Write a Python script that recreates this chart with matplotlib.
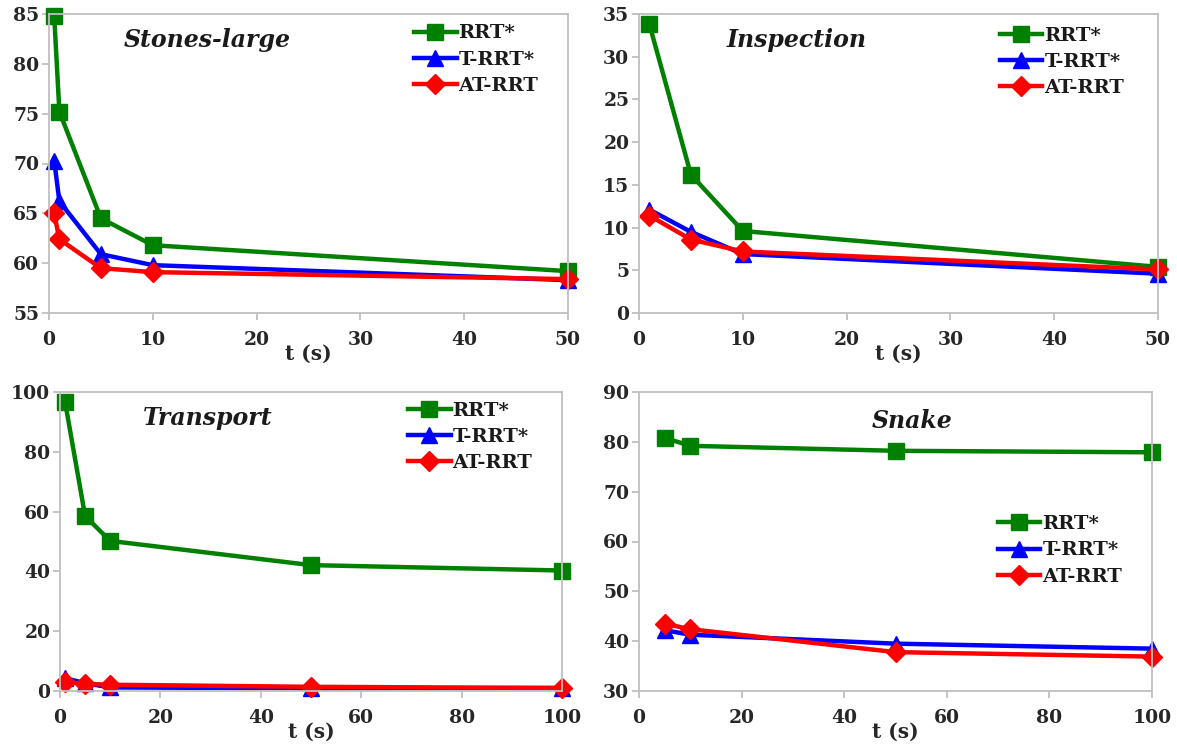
import matplotlib
matplotlib.use("Agg")
import matplotlib.pyplot as plt

# ---------------- data ----------------
series_names = ["RRT*", "T-RRT*", "AT-RRT"]

stones_t = [0.5, 1, 5, 10, 50]
stones_rrt = [84.8, 75.2, 64.5, 61.8, 59.2]
stones_trrt = [70.3, 66.2, 60.9, 59.8, 58.3]
stones_atrrt = [65.0, 62.4, 59.5, 59.1, 58.4]

insp_t = [1, 5, 10, 50]
insp_rrt = [33.8, 16.2, 9.6, 5.4]
insp_trrt = [12.1, 9.5, 6.9, 4.6]
insp_atrrt = [11.4, 8.6, 7.2, 5.1]

trans_t = [1, 5, 10, 50, 100]
trans_rrt = [96.8, 58.5, 50.2, 42.1, 40.3]
trans_trrt = [4.3, 2.6, 1.2, 0.9, 1.0]
trans_atrrt = [2.9, 2.4, 2.1, 1.4, 1.0]

snake_t = [5, 10, 50, 100]
snake_rrt = [80.8, 79.2, 78.2, 77.9]
snake_trrt = [42.2, 41.3, 39.5, 38.5]
snake_atrrt = [43.5, 42.4, 37.8, 36.9]

titles = ["Stones-large", "Inspection", "Transport", "Snake"]
xlabel = "t (s)"

# ---------------- style ----------------
plt.rcParams['font.family'] = ['DejaVu Serif']
plt.rcParams['font.weight'] = 'bold'

colors = ["#008000", "#0000FF", "#FF0000"]
markers = ["s", "^", "D"]
msizes = [11.5, 11.5, 10.5]
spine_col = "#BFBFBF"

W, H = 1177, 747
fig = plt.figure(figsize=(W / 100, H / 100), dpi=100)


def px_axes(l, r, t, b):
    return fig.add_axes([l / W, 1 - b / H, (r - l) / W, (b - t) / H])


panels = [
    dict(box=(49, 568, 14, 313), t=stones_t, ys=[stones_rrt, stones_trrt, stones_atrrt],
         xlim=(0, 50), xticks=range(0, 51, 10), ylim=(55, 85), yticks=range(55, 86, 5),
         title=titles[0], tpos=(0.304, 0.913), leg=(0.703, 0.965)),
    dict(box=(639, 1158, 14, 313), t=insp_t, ys=[insp_rrt, insp_trrt, insp_atrrt],
         xlim=(0, 50), xticks=range(0, 51, 10), ylim=(0, 35), yticks=range(0, 36, 5),
         title=titles[1], tpos=(0.303, 0.913), leg=(0.695, 0.958)),
    dict(box=(60, 562, 392, 691), t=trans_t, ys=[trans_rrt, trans_trrt, trans_atrrt],
         xlim=(0, 100), xticks=range(0, 101, 20), ylim=(0, 100), yticks=range(0, 101, 20),
         title=titles[2], tpos=(0.295, 0.913), leg=(0.693, 0.968)),
    dict(box=(639, 1152, 392, 691), t=snake_t, ys=[snake_rrt, snake_trrt, snake_atrrt],
         xlim=(0, 100), xticks=range(0, 101, 20), ylim=(30, 90), yticks=range(30, 91, 10),
         title=titles[3], tpos=(0.533, 0.903), leg=(0.699, 0.588)),
]

for p in panels:
    l, r, t, b = p["box"]
    ax = px_axes(l, r, t, b)
    for name, y, c, m, ms in zip(series_names, p["ys"], colors, markers, msizes):
        ax.plot(p["t"], y, color=c, marker=m, markersize=ms, linewidth=3.2,
                label=name, clip_on=False)
    ax.set_xlim(*p["xlim"])
    ax.set_ylim(*p["ylim"])
    ax.set_xticks(list(p["xticks"]))
    ax.set_yticks(list(p["yticks"]))
    for s in ax.spines.values():
        s.set_color(spine_col)
        s.set_linewidth(1.3)
    ax.tick_params(axis='x', direction='out', length=5, width=1.3, color=spine_col,
                   labelsize=13.5, pad=8, labelcolor="#262626")
    ax.tick_params(axis='y', direction='out', length=5, width=1.3, color=spine_col,
                   labelsize=13.5, pad=2, labelcolor="#262626")
    for lab in ax.get_xticklabels() + ax.get_yticklabels():
        lab.set_fontweight('bold')
    ax.set_xlabel(xlabel, fontsize=14.5, fontweight='bold', color="#262626")
    ax.xaxis.set_label_coords(0.5, -41 / (b - t))
    ax.xaxis.label.set_va('center')
    ax.text(p["tpos"][0], p["tpos"][1], p["title"], transform=ax.transAxes,
            ha='center', va='center', fontsize=17, fontweight='bold',
            fontstyle='italic', color="#1a1a1a")
    ax.legend(loc='upper left', bbox_to_anchor=p["leg"], frameon=False,
              borderpad=0, borderaxespad=0, handlelength=2.2, handletextpad=0.1,
              labelspacing=0.42, prop=dict(size=14, weight='bold'),
              labelcolor="#1a1a1a")

fig.savefig("out.png", dpi=100)
